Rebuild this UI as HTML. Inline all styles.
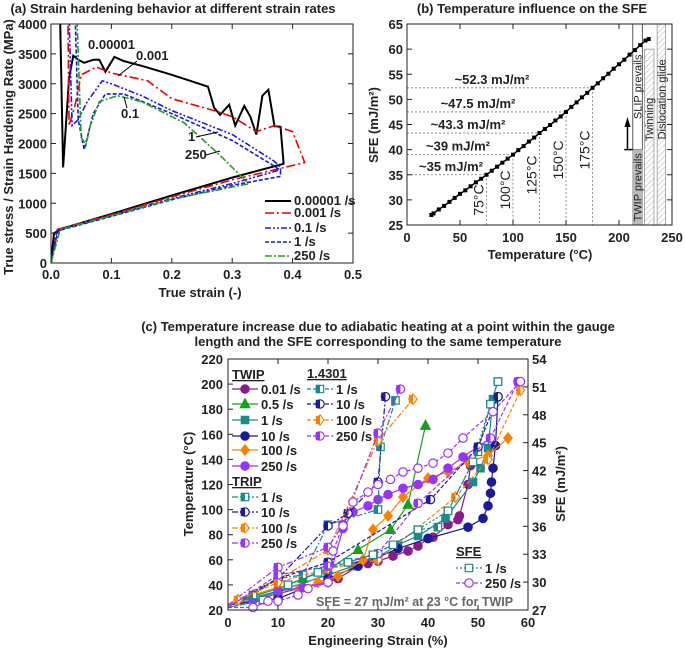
<!DOCTYPE html>
<html><head><meta charset="utf-8"><style>
html,body{margin:0;padding:0;background:#fff;}
svg{display:block;font-family:"Liberation Sans",Arial,sans-serif;}
.t{font-weight:bold;font-size:13px;fill:#222;}
.tk{font-weight:bold;font-size:13px;fill:#222;}
.lg{font-weight:bold;font-size:13px;fill:#222;}
</style></head><body>
<svg id="fig" width="685" height="649" viewBox="0 0 685 649" xmlns="http://www.w3.org/2000/svg">
<defs>
<clipPath id="clipA"><rect x="51" y="24" width="302" height="239"/></clipPath>
<pattern id="hatch" width="4" height="4" patternUnits="userSpaceOnUse" patternTransform="rotate(45)"><line x1="0" y1="0" x2="0" y2="4" stroke="#bbb" stroke-width="1.2"/></pattern>
</defs>
<g id="pa"></g>
<g id="pb"></g>
<g id="pc"></g>
</svg>
<script>
// ---------- Panel (a) data ----------
const aXTicks=[0,0.1,0.2,0.3,0.4,0.5];
const aYTicks=[0,500,1000,1500,2000,2500,3000,3500,4000];
const aLegend=["0.00001 /s","0.001 /s","0.1 /s","1 /s","250 /s"];
const aS1=[[0,0],[0.005,500],[0.02,580],[0.1,820],[0.2,1130],[0.3,1430],[0.385,1660],[0.385,1690],[0.38,2280],[0.37,2290],[0.36,2900],[0.35,2800],[0.34,2150],[0.33,2450],[0.32,2630],[0.305,2300],[0.295,2650],[0.28,2480],[0.27,2600],[0.26,2950],[0.2,3150],[0.15,3300],[0.12,3380],[0.105,3450],[0.09,3200],[0.08,3400],[0.07,3400],[0.055,3350],[0.045,3400],[0.037,3470],[0.03,3100],[0.02,1600],[0.015,4100]];
const aS2=[[0,0],[0.01,560],[0.1,810],[0.2,1110],[0.3,1390],[0.42,1680],[0.4,2200],[0.37,2300],[0.34,2200],[0.3,2450],[0.27,2550],[0.2,2750],[0.16,3050],[0.1,3180],[0.075,3280],[0.05,3150],[0.04,2650],[0.03,2300],[0.028,4100]];
const aS3=[[0,0],[0.01,540],[0.1,790],[0.2,1080],[0.3,1330],[0.38,1560],[0.38,1600],[0.37,1700],[0.3,2150],[0.2,2550],[0.15,2800],[0.1,3000],[0.085,3050],[0.06,2700],[0.045,2400],[0.035,2300],[0.03,4100]];
const aS4=[[0,0],[0.012,540],[0.1,780],[0.2,1060],[0.3,1300],[0.38,1450],[0.38,1550],[0.365,1650],[0.3,2050],[0.2,2500],[0.12,2830],[0.09,2830],[0.07,2500],[0.055,1900],[0.045,2400],[0.04,4100]];
const aS5=[[0,0],[0.015,560],[0.1,790],[0.2,1070],[0.325,1320],[0.325,1350],[0.28,1800],[0.22,2350],[0.15,2700],[0.11,2800],[0.08,2700],[0.065,2300],[0.058,1980],[0.05,2100],[0.045,3500],[0.043,4100]];
// ---------- Panel (b) data ----------
const bXTicks=[0,50,100,150,200,250];
const bYTicks=[25,30,35,40,45,50,55,60,65];
const bTemps=[23,25,30,35,40,45,50,55,60,65,70,75,80,85,90,95,100,105,110,115,120,125,130,135,140,145,150,155,160,165,170,175,180,185,190,195,200,205,210,215,220,225,228];
const bSFE=[27.0,27.3,28.1,28.8,29.6,30.4,31.2,31.9,32.7,33.5,34.2,35.0,35.8,36.6,37.4,38.2,39.0,39.9,40.7,41.6,42.4,43.3,44.1,44.9,45.8,46.6,47.5,48.5,49.4,50.4,51.3,52.3,53.2,54.2,55.1,56.1,57.0,57.9,58.9,59.8,60.8,61.7,62.0];
const bRefT=[75,100,125,150,175];
const bRefS=[35,39,43.3,47.5,52.3];
const bRefLbl=["~35 mJ/m²","~39 mJ/m²","~43.3 mJ/m²","~47.5 mJ/m²","~52.3 mJ/m²"];
// label placement (layout, not data)
const bLblX=[451,458,468,478,492];
const bTLblY=[200,190,175,160,150];
// ---------- Panel (c) data ----------
const cXTicks=[0,10,20,30,40,50,60];
const cYTicks=[20,40,60,80,100,120,140,160,180,200,220];
const cY2Ticks=[27,30,33,36,39,42,45,48,51,54];
const twip001=[[0,24],[5,28],[10,33],[15,38],[20,42],[22,45],[26,55],[28,57],[30,59],[33,63],[36,67],[38,71],[40,77],[41,78],[44,88],[46,92],[46.3,95],[48,120],[48.5,135]];
const twip05=[[0,24],[5,31],[10,37],[15,45],[20,52],[26,68],[32.5,84],[36,104],[39.5,167]];
const twip1=[[0,24],[5,30],[10,35],[20,48],[25,55],[30,62],[34,72],[38,79],[43.5,93],[49,122],[50.5,133],[52,149],[53,188]];
const twip10=[[0,24],[10,29],[20,45],[26,55],[34,69],[40,77],[48,86],[51,93],[52,103],[52.5,113],[52.7,122],[53,133],[53.5,151],[54,190]];
const twip100=[[0,24],[2,28],[5,32],[10,38],[14,36],[18,42],[22,47],[27,60],[29,84],[32,95],[35,110],[40,125],[44,130],[48,138],[52,143],[56,157]];
const twip250=[[0,24],[5,28],[10,35],[15,38],[20,42],[23,85],[25,98],[28,103],[30,108],[32,112],[35,117],[38,120],[41,124],[44,133],[47,142],[52.5,157]];
const trip1=[[0,24],[5,32],[10,45],[15,48],[20,88],[30,100],[30.5,150],[33.5,187]];
const trip10=[[0,24],[10,45],[20,87],[24,97],[30,122],[31.5,190]];
const trip100=[[0,24],[10,44],[20,68],[30,155],[37,188]];
const trip250=[[0,24],[10,54],[20,70],[23,88],[30,161],[34.5,196]];
const s1_1=[[0,22],[7,28],[12,40],[18,50],[24,58],[29,64],[33,72],[38,84],[42,86],[44,99],[50,146],[52.5,184],[54,202]];
const s1_10=[[0,22],[10,45],[20,58],[40.5,108],[50,150],[54,190]];
const s1_100=[[0,22],[2,28],[10,42],[20,53],[30,60],[45.5,110],[52,140],[58.5,195]];
const s1_250=[[0,22],[10,48],[20,55],[30,65],[38,105],[52.5,157],[58,202]];
const sfe1=[[0,22],[7,28],[12,40],[18,50],[24,58],[29,64],[33,72],[38,84],[44,99],[49,138],[52.5,184],[54,202]];
const sfe250=[[0,22],[5,22],[8,27],[10,27],[14,32],[16,37],[20,42],[21,67],[23,87],[25,106],[28,114],[30,120],[32.5,124],[35,130],[38,133],[41,137],[44,145],[47,157],[53,178],[58.5,202]];

const NS="http://www.w3.org/2000/svg";
function mk(parent,tag,attrs,text){const e=document.createElementNS(NS,tag);for(const k in attrs)e.setAttribute(k,attrs[k]);if(text!==undefined)e.textContent=text;parent.appendChild(e);return e;}
function pathD(pts,sx,sy){return pts.map((p,i)=>(i?'L':'M')+sx(p[0]).toFixed(1)+' '+sy(p[1]).toFixed(1)).join(' ');}

// ===== Panel A =====
const ax=v=>51+v*604, ay=v=>263-v*239/4000;
(function(){
const g=document.getElementById('pa');
let e=mk(g,'text',{x:173,y:13,'text-anchor':'middle',class:'t'},'(a) Strain hardening behavior at different strain rates');


const series=[aS1,aS2,aS3,aS4,aS5];
const cols=['#000','#e00','#1a1aff','#1a1acc','#22a022'];
const dashes=['none','9,3,2,3','6,2,2,2,2,2','4,2','7,2,2,2'];
const cg=mk(g,'g',{'clip-path':'url(#clipA)'});
series.forEach((s,i)=>{
 const p=mk(cg,'path',{d:pathD(s,ax,ay),fill:'none',stroke:cols[i],'stroke-width':i==0?2:1.6,'stroke-dasharray':dashes[i]});
 
 
});
mk(g,'rect',{x:51,y:24,width:302,height:239,fill:'none',stroke:'#222','stroke-width':1});
aXTicks.forEach(v=>{const x=ax(v);mk(g,'line',{x1:x,y1:263,x2:x,y2:258,stroke:'#222'});mk(g,'line',{x1:x,y1:24,x2:x,y2:29,stroke:'#222'});
 const t=mk(g,'text',{x:x,y:279,'text-anchor':'middle',class:'tk'},v.toFixed(1));});
aYTicks.forEach(v=>{const y=ay(v);mk(g,'line',{x1:51,y1:y,x2:56,y2:y,stroke:'#222'});mk(g,'line',{x1:353,y1:y,x2:348,y2:y,stroke:'#222'});
 const t=mk(g,'text',{x:47,y:y+5,'text-anchor':'end',class:'tk'},v);});
e=mk(g,'text',{x:200,y:297,'text-anchor':'middle',class:'t'},'True strain (-)');

e=mk(g,'text',{x:0,y:0,'text-anchor':'middle',class:'t',transform:'translate(13,147) rotate(-90)'},'True stress / Strain Hardening Rate (MPa)');

const ann=[['0.00001',88,49],['0.001',136,60],['0.1',121,118],['1',188,141],['250',185,159]];
ann.forEach(a=>{const t=mk(g,'text',{x:a[1],y:a[2],'text-anchor':'start',class:'lg','font-size':'12'},a[0]);});
mk(g,'line',{x1:118,y1:76,x2:137,y2:61,stroke:'#000'});
mk(g,'line',{x1:127,y1:108,x2:124,y2:97,stroke:'#000'});
mk(g,'line',{x1:196,y1:137,x2:218,y2:132,stroke:'#000'});
mk(g,'line',{x1:206,y1:155,x2:220,y2:151,stroke:'#000'});
const ly=[201,213,228,242,256];
aLegend.forEach((l,i)=>{
 const lg=mk(g,'g',{});
 mk(lg,'line',{x1:265,y1:ly[i],x2:291,y2:ly[i],stroke:cols[i],'stroke-width':i==0?2:1.6,'stroke-dasharray':dashes[i]});
 mk(lg,'text',{x:294,y:ly[i]+4,class:'lg','font-size':'12'},l);
});
})();

// ===== Panel B =====
const bx=t=>407+t*1.06, by=s=>225-(s-25)*201/40;
(function(){
const g=document.getElementById('pb');
let e=mk(g,'text',{x:532,y:13,'text-anchor':'middle',class:'t'},'(b) Temperature influence on the SFE');

e=mk(g,'rect',{x:bx(213),y:by(65),width:bx(222)-bx(213),height:by(40)-by(65),fill:'#fff',stroke:'#333','stroke-width':0.8});
e=mk(g,'rect',{x:bx(213),y:by(40),width:bx(222)-bx(213),height:by(25)-by(40),fill:'#bbb',stroke:'#999','stroke-width':0.8});
e=mk(g,'rect',{x:bx(224),y:by(60),width:bx(233)-bx(224),height:by(25)-by(60),fill:'url(#hatch)',stroke:'#999','stroke-width':0.8});
e=mk(g,'rect',{x:bx(236),y:by(65),width:bx(244)-bx(236),height:by(25)-by(65),fill:'url(#hatch)',stroke:'#999','stroke-width':0.8});
const bt=[['SLIP prevails',bx(217.5)+4,by(52.5)],['TWIP prevails',bx(217.5)+4,by(32.5)],['Twinning',bx(228.5)+4,by(46)],['Dislocation glide',bx(240)+4,by(50)]];
bt.forEach(b=>{const t=mk(g,'text',{x:0,y:0,'text-anchor':'middle','font-size':'11',fill:'#222',transform:`translate(${b[1]},${b[2]}) rotate(-90)`},b[0]);});
mk(g,'line',{x1:bx(205),y1:by(40),x2:bx(213),y2:by(40),stroke:'#000','stroke-width':1.5});
mk(g,'line',{x1:bx(208),y1:by(40),x2:bx(208),y2:by(44.5),stroke:'#000','stroke-width':1.5});
mk(g,'path',{d:`M${bx(208)-3} ${by(44.5)} L${bx(208)+3} ${by(44.5)} L${bx(208)} ${by(46.5)} Z`,fill:'#000'});
bRefT.forEach((t,i)=>{
 mk(g,'line',{x1:bx(0),y1:by(bRefS[i]),x2:bx(t),y2:by(bRefS[i]),stroke:'#777','stroke-dasharray':'2,2','stroke-width':0.8});
 mk(g,'line',{x1:bx(t),y1:by(bRefS[i]),x2:bx(t),y2:by(25),stroke:'#777','stroke-dasharray':'2,2','stroke-width':0.8});
 let tx=mk(g,'text',{x:bLblX[i],y:by(bRefS[i])-4,'text-anchor':'middle',class:'lg','font-size':'13',fill:'#333'},bRefLbl[i]);
 
 tx=mk(g,'text',{x:0,y:0,'text-anchor':'middle','font-size':'14',fill:'#222',transform:`translate(${bx(t)-3},${bTLblY[i]}) rotate(-90)`},t+'°C');
 
});
const pts=bTemps.map((t,i)=>[t,bSFE[i]]);
e=mk(g,'path',{d:pathD(pts,bx,by),fill:'none',stroke:'#000','stroke-width':1.5});

pts.forEach(p=>{const m=mk(g,'rect',{x:bx(p[0])-2,y:by(p[1])-2,width:4,height:4,fill:'#000'});});
mk(g,'rect',{x:407,y:24,width:265,height:201,fill:'none',stroke:'#222'});
bXTicks.forEach(v=>{const x=bx(v);mk(g,'line',{x1:x,y1:225,x2:x,y2:220,stroke:'#222'});mk(g,'line',{x1:x,y1:24,x2:x,y2:29,stroke:'#222'});
 const t=mk(g,'text',{x:x,y:242,'text-anchor':'middle',class:'tk'},v);});
bYTicks.forEach(v=>{const y=by(v);mk(g,'line',{x1:407,y1:y,x2:412,y2:y,stroke:'#222'});mk(g,'line',{x1:672,y1:y,x2:667,y2:y,stroke:'#222'});
 const t=mk(g,'text',{x:403,y:y+5,'text-anchor':'end',class:'tk'},v);});
e=mk(g,'text',{x:540,y:259,'text-anchor':'middle',class:'t'},'Temperature (°C)');
e=mk(g,'text',{x:0,y:0,'text-anchor':'middle',class:'t',transform:'translate(378,125) rotate(-90)'},'SFE (mJ/m²)');
})();

// ===== Panel C =====
const cx=v=>228+v*5, cy=v=>610-(v-20)*251/200, cyS=s=>cy(20+(s-27)*200/27);
function marker(g,type,fill,x,y,col){
 const r=4.2;let d;
 if(type=='circle'||type=='pent'||type=='hex'){d=`M${x-r} ${y} A${r} ${r} 0 1 0 ${x+r} ${y} A${r} ${r} 0 1 0 ${x-r} ${y}Z`;}
 else if(type=='tri'){d=`M${x} ${y-r-1} L${x+r+0.5} ${y+r-0.5} L${x-r-0.5} ${y+r-0.5}Z`;}
 else if(type=='square'){d=`M${x-r+0.5} ${y-r+0.5} h${2*r-1} v${2*r-1} h${-2*r+1}Z`;}
 else {d=`M${x} ${y-r-1} L${x+r} ${y} L${x} ${y+r+1} L${x-r} ${y}Z`;}
 mk(g,'path',{d:d,fill:fill=='full'?col:'#fff',stroke:col,'stroke-width':1.2});
 if(fill=='half') mk(g,'rect',{x:x-r,y:y-r,width:r,height:2*r,fill:col});
}
(function(){
const g=document.getElementById('pc');
let e=mk(g,'text',{x:378,y:331,'text-anchor':'middle',class:'t'},'(c) Temperature increase due to adiabatic heating at a point within the gauge');

e=mk(g,'text',{x:378,y:346,'text-anchor':'middle',class:'t'},'length and the SFE corresponding to the same temperature');

const P='#8b1a8b',G='#16a016',T='#1a8a8a',N='#1a1a9a',O='#ff8000',V='#9933ff';
const S=[
 {d:twip001,c:P,da:'none',m:'circle',f:'full',n:'twip-0.01'},
 {d:twip05,c:G,da:'none',m:'tri',f:'full',n:'twip-0.5'},
 {d:twip1,c:T,da:'none',m:'square',f:'full',n:'twip-1'},
 {d:twip10,c:N,da:'none',m:'pent',f:'full',n:'twip-10'},
 {d:twip100,c:O,da:'none',m:'diamond',f:'full',n:'twip-100'},
 {d:twip250,c:V,da:'none',m:'hex',f:'full',n:'twip-250'},
 {d:trip1,c:T,da:'6,2,2,2',m:'square',f:'half',n:'trip-1'},
 {d:trip10,c:N,da:'6,2,2,2',m:'circle',f:'half',n:'trip-10'},
 {d:trip100,c:O,da:'6,2,2,2',m:'diamond',f:'half',n:'trip-100'},
 {d:trip250,c:V,da:'6,2,2,2',m:'circle',f:'half',n:'trip-250'},
 {d:s1_1,c:T,da:'4,2',m:'square',f:'half',n:'steel-1'},
 {d:s1_10,c:N,da:'4,2',m:'circle',f:'half',n:'steel-10'},
 {d:s1_100,c:O,da:'4,2',m:'diamond',f:'half',n:'steel-100'},
 {d:s1_250,c:V,da:'4,2',m:'circle',f:'half',n:'steel-250'},
 {d:sfe1,c:T,da:'2,2',m:'square',f:'open',n:'sfe-1'},
 {d:sfe250,c:V,da:'4,2',m:'circle',f:'open',n:'sfe-250'}
];
S.forEach(s=>{
 const sg=mk(g,'g',{});
 
 
 mk(sg,'path',{d:pathD(s.d,cx,cy),fill:'none',stroke:s.c,'stroke-width':1.2,'stroke-dasharray':s.da});
 s.d.forEach((p,i)=>{if(i>0)marker(sg,s.m,s.f,cx(p[0]),cy(p[1]),s.c);});
});
mk(g,'rect',{x:228,y:359,width:300,height:251,fill:'none',stroke:'#222'});
cXTicks.forEach(v=>{const x=cx(v);mk(g,'line',{x1:x,y1:610,x2:x,y2:605,stroke:'#222'});mk(g,'line',{x1:x,y1:359,x2:x,y2:364,stroke:'#222'});
 const t=mk(g,'text',{x:x,y:627,'text-anchor':'middle',class:'tk'},v);});
cYTicks.forEach(v=>{const y=cy(v);mk(g,'line',{x1:228,y1:y,x2:233,y2:y,stroke:'#222'});
 const t=mk(g,'text',{x:223,y:y+5,'text-anchor':'end',class:'tk'},v);});
cY2Ticks.forEach(v=>{const y=cyS(v);mk(g,'line',{x1:528,y1:y,x2:523,y2:y,stroke:'#222'});
 const t=mk(g,'text',{x:532,y:y+5,'text-anchor':'start',class:'tk'},v);});
e=mk(g,'text',{x:378,y:645,'text-anchor':'middle',class:'t'},'Engineering Strain (%)');
e=mk(g,'text',{x:0,y:0,'text-anchor':'middle',class:'t',transform:'translate(193,484) rotate(-90)'},'Temperature (°C)');
e=mk(g,'text',{x:0,y:0,'text-anchor':'middle',class:'t',transform:'translate(565,484) rotate(-90)'},'SFE (mJ/m²)');
function hdr(x,y,txt){const t=mk(g,'text',{x:x,y:y,class:'lg','text-decoration':'underline'},txt);}
function ent(x,y,s,lbl){const lg=mk(g,'g',{});
 mk(lg,'line',{x1:x,y1:y,x2:x+26,y2:y,stroke:s.c,'stroke-width':1.2,'stroke-dasharray':s.da});marker(lg,s.m,s.f,x+13,y,s.c);
 mk(lg,'text',{x:x+29,y:y+5,class:'lg'},lbl);}
hdr(232,379,'TWIP');
const r1=[389,404,420,436,450,466],lbl1=['0.01 /s','0.5 /s','1 /s','10 /s','100 /s','250 /s'];
lbl1.forEach((l,i)=>ent(232,r1[i],S[i],l));
hdr(232,486,'TRIP');
const r2=[497,512,528,543],lbl2=['1 /s','10 /s','100 /s','250 /s'];
lbl2.forEach((l,i)=>ent(232,r2[i],S[6+i],l));
hdr(307,378,'1.4301');
lbl2.forEach((l,i)=>ent(307,r1[i],S[10+i],l));
hdr(456,556,'SFE');
ent(456,568,S[14],'1 /s');ent(456,583,S[15],'250 /s');
e=mk(g,'text',{x:316,y:606,'font-size':'12.5','font-weight':'bold',fill:'#666'},'SFE = 27 mJ/m² at 23 °C for TWIP');

})();
</script>
</body></html>
